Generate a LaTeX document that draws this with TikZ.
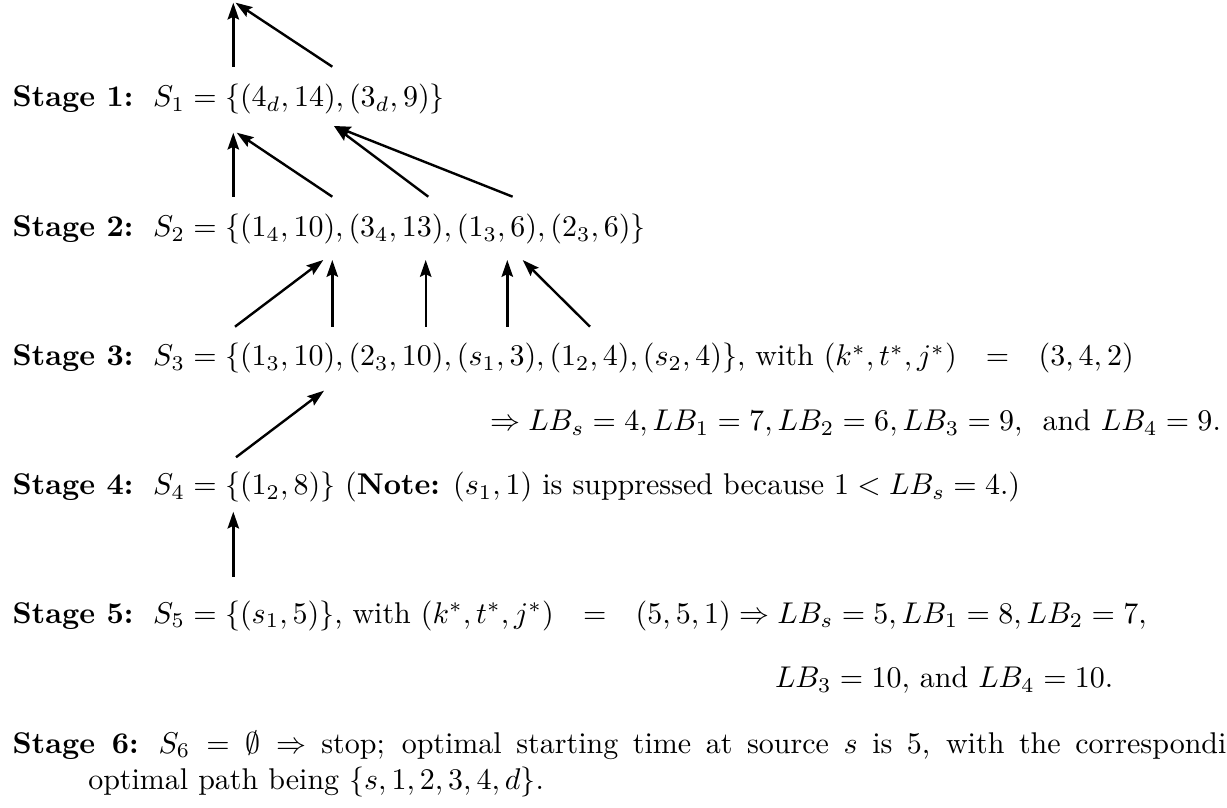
\documentclass[tikz,border=0pt]{standalone}
\usetikzlibrary{arrows.meta}
\newcommand{\eqsp}{\hspace{7pt}=\hspace{7pt}}
\begin{document}
\begin{tikzpicture}[x=0.33333pt,y=-0.33333pt,
  txt/.style={anchor=base west,inner sep=0pt,outer sep=0pt},
  arr/.style={-{Stealth[length=5.6pt,width=3.8pt,inset=0.9pt]},line width=0.8pt}]
\clip (0,0) rectangle (1227,808);
% text lines
\node[txt] (st1) at (12.7,107) {\textbf{Stage 1:}\hspace{6.6pt}$S_1 = \{(4_d, 14), (3_d, 9)\}$};
\node[txt] (st2) at (12.7,237) {\textbf{Stage 2:}\hspace{6.6pt}$S_2 = \{(1_4, 10), (3_4, 13), (1_3, 6), (2_3, 6)\}$};
\node[txt] (st3) at (12.7,366) {\textbf{Stage 3:}\hspace{6.6pt}$S_3 = \{(1_3, 10), (2_3, 10), (s_1, 3), (1_2, 4), (s_2, 4)\}$, with $(k^*, t^*, j^*)\eqsp(3, 4, 2)$};
\node[txt] (st3b) at (490,431) {$\Rightarrow LB_s = 4, LB_1 = 7, LB_2 = 6, LB_3 = 9,$\ \ and $LB_4 = 9.$};
\node[txt] (st4) at (12.7,495) {\textbf{Stage 4:}\hspace{6.6pt}$S_4 = \{(1_2, 8)\}$ (\textbf{Note:} $(s_1, 1)$ is suppressed because $1 < LB_s = 4$.)};
\node[txt] (st5) at (12.7,623.5) {\textbf{Stage 5:}\hspace{6.6pt}$S_5 = \{(s_1, 5)\}$, with $(k^*, t^*, j^*)\eqsp(5, 5, 1) \Rightarrow LB_s = 5, LB_1 = 8, LB_2 = 7,$};
\node[txt] (st5b) at (775,688) {$LB_3 = 10,$ and $LB_4 = 10.$};
\node[txt] (st6) at (12.7,753.5) {\makebox[404.6pt][s]{\textbf{Stage 6:}\hspace{6.6pt}$S_6 = \emptyset \Rightarrow$ stop; optimal starting time at source $s$ is 5, with the correspondi}};
\node[txt] (st6b) at (88.3,789.5) {optimal path being $\{s, 1, 2, 3, 4, d\}$.};
% arrow end points
\coordinate (t0) at (233.3,2.7);
\coordinate (t0b) at (235.5,2.7);
\coordinate (u1a) at (233.3,66.7);
\coordinate (u1b) at (332.3,66.7);
\coordinate (d1a) at (233.3,132.7);
\coordinate (d1b) at (236.7,132.7);
\coordinate (d1c) at (334,126);
\coordinate (u2a) at (233.3,196.7);
\coordinate (u2b) at (332.3,196.7);
\coordinate (u2c) at (428.3,196.7);
\coordinate (u2d) at (512.6,196.7);
\coordinate (d2a) at (323.3,260);
\coordinate (d2b) at (332.3,260);
\coordinate (d2c) at (425.7,260);
\coordinate (d2d) at (507.3,260);
\coordinate (d2e) at (522.7,260);
\coordinate (u3a) at (235,326.7);
\coordinate (u3b) at (332.3,326.7);
\coordinate (u3c) at (425.7,326.7);
\coordinate (u3d) at (507.3,326.7);
\coordinate (u3e) at (590,326.7);
\coordinate (d3) at (324,390.7);
\coordinate (u4) at (236,457.3);
\coordinate (d4) at (233.3,511.7);
\coordinate (u5) at (233.3,576.7);
% arrows
\draw[arr] (u1a) -- (t0);
\draw[arr] (u1b) -- (t0b);
\draw[arr] (u2a) -- (d1a);
\draw[arr] (u2b) -- (d1b);
\draw[arr] (u2c) -- (d1c);
\draw[arr] (u2d) -- (d1c);
\draw[arr] (u3a) -- (d2a);
\draw[arr] (u3b) -- (d2b);
\draw[arr] (u3c) -- (d2c);
\draw[arr] (u3d) -- (d2d);
\draw[arr] (u3e) -- (d2e);
\draw[arr] (u4) -- (d3);
\draw[arr] (u5) -- (d4);
\end{tikzpicture}
\end{document}
